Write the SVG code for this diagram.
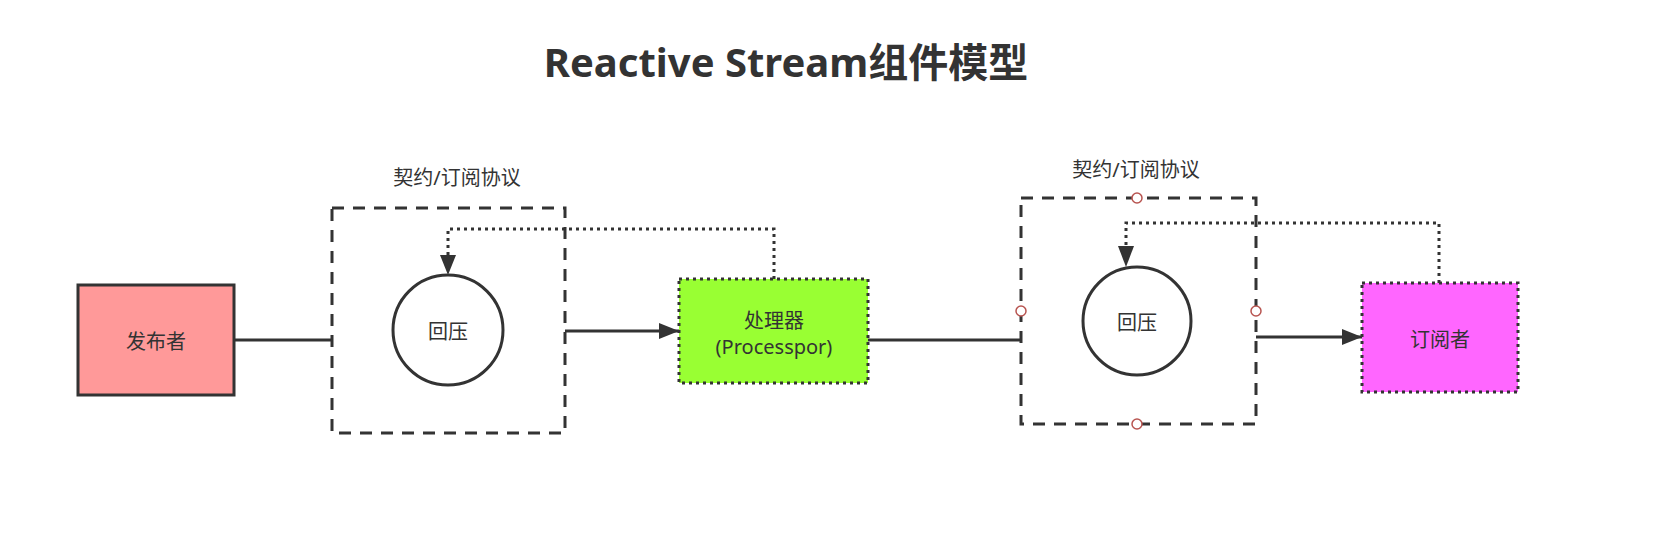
<svg xmlns="http://www.w3.org/2000/svg" width="1662" height="544" viewBox="0 0 1662 544">
<style>
text{font-family:"Noto Sans","Noto Sans CJK SC",sans-serif;fill:#333333;text-anchor:middle;dominant-baseline:central}
.lbl{font-size:20px}
.title{font-size:40px;font-weight:bold;dominant-baseline:auto}
.solid{fill:none;stroke:#333333;stroke-width:3}
.dash{fill:none;stroke:#333333;stroke-width:3;stroke-dasharray:12 9}
.dot{fill:none;stroke:#333333;stroke-width:3;stroke-dasharray:3 4}
.pt{fill:#ffffff;stroke:#b85450;stroke-width:1.5}
</style>
<defs>
<marker id="arrL" viewBox="0 0 20 16" refX="20" refY="8" markerWidth="20" markerHeight="16" markerUnits="userSpaceOnUse" orient="auto">
<path d="M0,0 L20,8 L0,16 Z" fill="#333333"/>
</marker>
</defs>
<rect width="1662" height="544" fill="#ffffff"/>
<text class="title" x="786" y="77">Reactive Stream组件模型</text>

<g id="connectors">
<path class="solid" d="M234,340 L332,340"/>
<path class="solid" d="M565,331 L679,331" marker-end="url(#arrL)"/>
<path class="solid" d="M868,340 L1021,340"/>
<path class="solid" d="M1256,337 L1362,337" marker-end="url(#arrL)"/>
<path class="dot" d="M774,279 L774,229 L448,229 L448,256"/>
<path d="M440,255 L456,255 L448,275 Z" fill="#333333"/>
<path class="dot" d="M1439,283 L1439,223 L1126,223 L1126,247"/>
<path d="M1118,246 L1134,246 L1126,267 Z" fill="#333333"/>
</g>

<g id="publisher">
<rect x="78" y="285" width="156" height="110" fill="#ff9999" stroke="#333333" stroke-width="3"/>
<text class="lbl" x="156" y="341">发布者</text>
</g>

<g id="contract1">
<rect class="dash" x="332" y="208" width="233" height="225"/>
<text class="lbl" x="457" y="177">契约/订阅协议</text>
</g>

<g id="backpressure1">
<circle cx="448" cy="330" r="55" fill="#ffffff" stroke="#333333" stroke-width="3"/>
<text class="lbl" x="448" y="331">回压</text>
</g>

<g id="processor">
<rect x="679" y="279" width="189" height="104" fill="#99ff33"/>
<rect class="dot" x="679" y="279" width="189" height="104"/>
<text class="lbl" x="774" y="320">处理器</text>
<text class="lbl" x="774" y="346">(Processpor)</text>
</g>

<g id="contract2">
<rect class="dash" x="1021" y="198" width="235" height="226"/>
<text class="lbl" x="1136" y="169">契约/订阅协议</text>
<circle class="pt" cx="1137" cy="198" r="5"/>
<circle class="pt" cx="1137" cy="424" r="5"/>
<circle class="pt" cx="1021" cy="311" r="5"/>
<circle class="pt" cx="1256" cy="311" r="5"/>
</g>

<g id="backpressure2">
<circle cx="1137" cy="321" r="54" fill="#ffffff" stroke="#333333" stroke-width="3"/>
<text class="lbl" x="1137" y="322">回压</text>
</g>

<g id="subscriber">
<rect x="1362" y="283" width="156" height="109" fill="#ff66ff"/>
<rect class="dot" x="1362" y="283" width="156" height="109"/>
<text class="lbl" x="1440" y="339">订阅者</text>
</g>
</svg>
